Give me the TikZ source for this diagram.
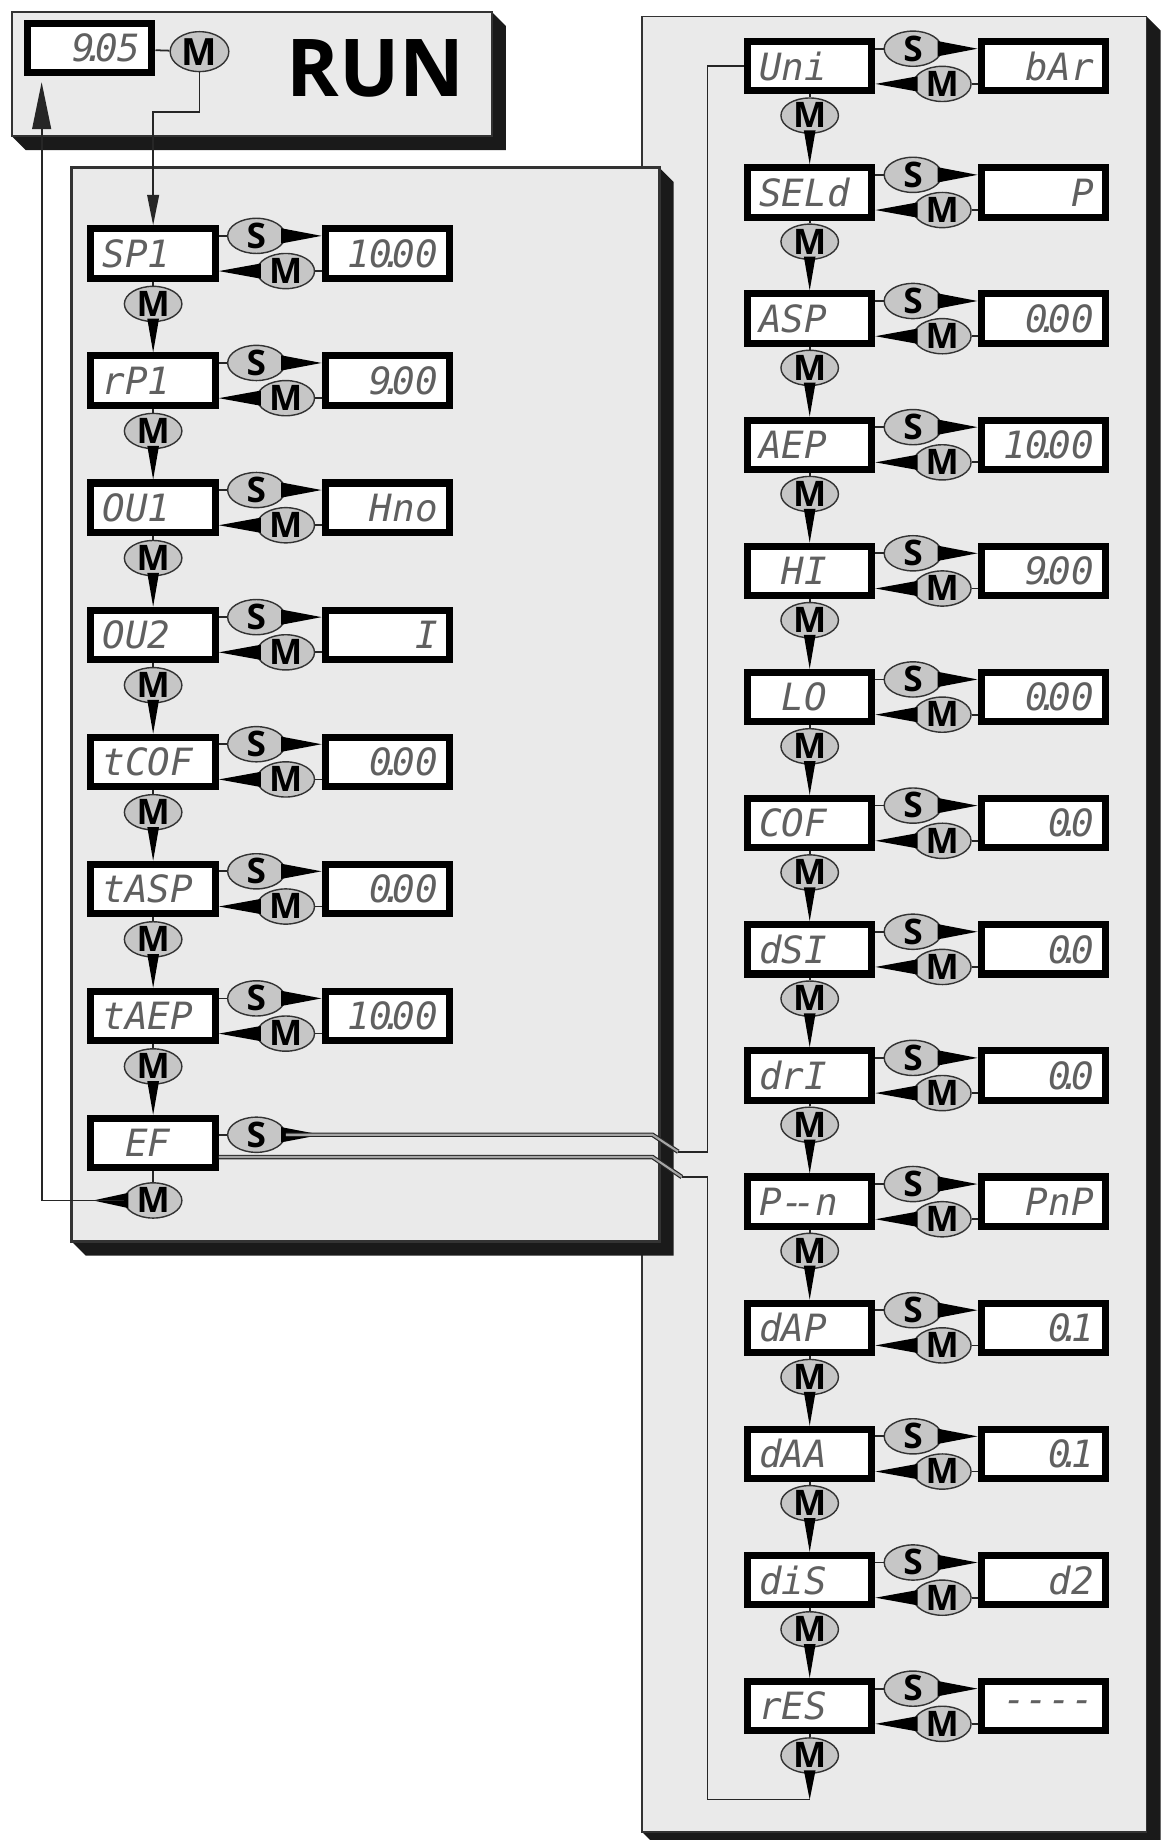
\documentclass[tikz,border=0pt]{standalone}
\usepackage{fontspec}
\setsansfont{Open Sans}
\newfontfamily\lcdfont{DejaVu Sans Mono}
\usepackage{xcolor}
\definecolor{panelgray}{RGB}{234,234,234}
\definecolor{buttongray}{RGB}{198,198,198}
\definecolor{lcdgray}{RGB}{96,96,96}
\definecolor{wallblack}{RGB}{26,26,26}
\usetikzlibrary{calc,arrows.meta,shapes.geometric}
\newcommand{\lcdpt}{\kern-.3em.\kern-.3em}

\begin{document}
\begin{tikzpicture}[x=0.5pt,y=-0.5pt,
      lcd/.style={draw=black,line width=3pt,fill=white,minimum width=53pt,
      minimum height=21pt,text width=43pt,inner xsep=5pt,inner ysep=0pt,
      font=\lcdfont\itshape\fontsize{16}{18}\selectfont,text=lcdgray},
      lcdname/.style={lcd,align=left},
      lcdval/.style={lcd,align=right},
      button/.style={ellipse,draw=black!80,line width=0.6pt,fill=buttongray,
      minimum width=24.5pt,minimum height=15pt,inner sep=0pt,text height=10.5pt,
      text depth=0pt,font=\sffamily\bfseries\fontsize{15}{15}\selectfont},
      wire/.style={draw=black!85,line width=0.75pt},
      bus/.style={draw=black!85,line width=0.5pt,double=black!35,double distance=0.9pt},
      wall/.style={fill=wallblack},
      panel/.style={draw=black!80,line width=0.75pt,fill=panelgray},
      feed/.style={-{Triangle[length=20pt,width=8pt]}}
    ]
    \useasboundingbox (0,0) rectangle (990,1568);
    % housings
    \fill[wall] (977,14) -- (989,26) -- (989,1573) -- (559,1573) -- (547,1561) -- cycle;
    \draw[panel] (547,14) rectangle (977,1561);
    \fill[wall] (562,143) -- (574,155) -- (574,1070) -- (73,1070) -- (61,1058) -- cycle;
    \draw[panel,line width=1.2pt] (61,143) rectangle (562,1058);
    \fill[wall] (419,10) -- (431,22) -- (431,128) -- (22,128) -- (10,116) -- cycle;
    \draw[panel] (10,10) rectangle (419,116);

    % run mode
    \node[lcdval] (disp) at (76.5,41) {9\lcdpt05};
    \node[button,minimum width=25pt,minimum height=17pt,text height=11.5pt,
      font=\sffamily\bfseries\fontsize{16}{16}\selectfont] (runm) at (170,44) {M};
    \node[font=\sffamily\bfseries\fontsize{34}{34}\selectfont] (runtitle) at (320,58) {RUN};
    \draw[wire] (disp) -- (runm);

    % first menu level
    \foreach \pname/\pval [count=\i from 0] in {SP1/10\lcdpt00, rP1/9\lcdpt00, OU1/Hno,
        OU2/I, tCOF/0\lcdpt00, tASP/0\lcdpt00, tAEP/10\lcdpt00} {
      \node[lcdname] (l\i) at (130.5,216+108.3*\i) {\pname};
      \node[lcdval] (lv\i) at (330,216+108.3*\i) {\pval};
      \node[button] (ls\i) at ($(l\i)+(88,-15)$) {S};
      \node[button] (lm\i) at ($(l\i)+(113,15)$) {M};
      \node[button] (ld\i) at ($(l\i)+(0,43)$) {M};
      \draw[wire] (l\i.east |- ls\i) -- (ls\i);
      \draw[wire] (lm\i) -- (lv\i.west |- lm\i);
      \draw[wire] (l\i) -- (ld\i);
      \fill ($(ls\i.east)+(-4,-6.5)$) -- (lv\i.west |- ls\i) -- ($(ls\i.east)+(-4,6.5)$) -- cycle;
      \fill ($(lm\i.west)+(4,-6.5)$) -- (l\i.east |- lm\i) -- ($(lm\i.west)+(4,6.5)$) -- cycle;
    }
    \node[lcdname] (l7) at (130.5,974) {\phantom{E}EF};
    \node[button] (ls7) at ($(l7)+(88,-7)$) {S};
    \node[button] (ld7) at ($(l7)+(0,49)$) {M};
    \draw[wire] (l7.east |- ls7) -- (ls7);
    \draw[wire] (l7) -- (ld7);
    \fill ($(ls7.east)+(-4,-6.5)$) -- ++(34,6.5) -- ++(-34,6.5) -- cycle;
    \fill ($(ld7.west)+(4,-6.5)$) -- ++(-30,6.5) -- ++(30,6.5) -- cycle;
    \foreach \i [count=\j from 1] in {0,...,6}
      \fill ($(ld\i.south)+(-5,-3)$) -- (l\j.north) -- ($(ld\i.south)+(5,-3)$) -- cycle;

    % extended functions
    \foreach \pname/\pval [count=\i from 0] in {Uni/bAr, SELd/P, ASP/0\lcdpt00,
        AEP/10\lcdpt00, \phantom{0}HI/9\lcdpt00, \phantom{0}LO/0\lcdpt00, COF/0\lcdpt0,
        dSI/0\lcdpt0, drI/0\lcdpt0, P-\kern-.3em-n/PnP, dAP/0\lcdpt1, dAA/0\lcdpt1,
        diS/d2, rES/-\kern0pt-\kern0pt-\kern0pt-} {
      \node[lcdname] (r\i) at (690,56.5+107.5*\i) {\pname};
      \node[lcdval] (rv\i) at (889,56.5+107.5*\i) {\pval};
      \node[button] (rs\i) at ($(r\i)+(88,-15)$) {S};
      \node[button] (rm\i) at ($(r\i)+(113,15)$) {M};
      \node[button] (rd\i) at ($(r\i)+(0,42)$) {M};
      \draw[wire] (r\i.east |- rs\i) -- (rs\i);
      \draw[wire] (rm\i) -- (rv\i.west |- rm\i);
      \draw[wire] (r\i) -- (rd\i);
      \fill ($(rs\i.east)+(-4,-6.5)$) -- (rv\i.west |- rs\i) -- ($(rs\i.east)+(-4,6.5)$) -- cycle;
      \fill ($(rm\i.west)+(4,-6.5)$) -- (r\i.east |- rm\i) -- ($(rm\i.west)+(4,6.5)$) -- cycle;
    }
    \foreach \i [count=\j from 1] in {0,...,12}
      \fill ($(rd\i.south)+(-5,-3)$) -- (r\j.north) -- ($(rd\i.south)+(5,-3)$) -- cycle;
    \coordinate (rback) at ($(r13)+(0,79.5)$);
    \fill ($(rd13.south)+(-5,-3)$) -- (rback) -- ($(rd13.south)+(5,-3)$) -- cycle;

    % links
    \draw[wire,-{Triangle[length=13pt,width=5pt]}] (runm) -- (170,95.5) -| (l0.north);
    \coordinate (dispin) at (35.5,70);
    \draw[wire,feed] (ld7) -| (dispin);
    \coordinate (jogup) at (556,967);
    \coordinate (jogupend) at (578,981.5);
    \coordinate (efout) at ($(l7.east)+(0,12)$);
    \coordinate (jogdown) at (556,986);
    \coordinate (jogdownend) at (581,1003);
    \draw[bus] (ls7.east) -- (jogup) -- (jogupend);
    \draw[wire] (jogupend) -- (603,981.5) |- (r0.west);
    \draw[bus] (efout) -- (jogdown) -- (jogdownend);
    \draw[wire] (jogdownend) -- (603,1003) |- (rback);
  \end{tikzpicture}
\end{document}
